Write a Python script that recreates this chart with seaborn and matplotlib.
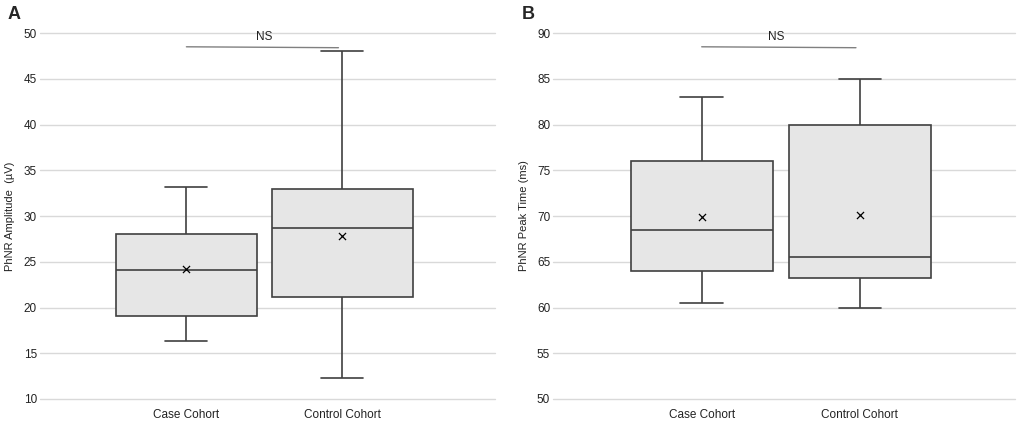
import numpy as np
import pandas as pd
import matplotlib.pyplot as plt
import seaborn as sns

groups = ["Case Cohort", "Control Cohort"]

# panel A: PhNR amplitude five-number summary + mean
amp_min = [16.3, 12.3]
amp_q1 = [19.1, 21.2]
amp_med = [24.1, 28.7]
amp_q3 = [28.0, 33.0]
amp_max = [33.2, 48.0]
amp_mean = [24.2, 27.8]

# panel B: PhNR peak time five-number summary + mean
pt_min = [60.5, 60.0]
pt_q1 = [64.0, 63.2]
pt_med = [68.5, 65.5]
pt_q3 = [76.0, 80.0]
pt_max = [83.0, 85.0]
pt_mean = [69.9, 70.1]

amp_sig_y = 48.5
pt_sig_y = 88.5
sig_text = "NS"


def summary_frame(mins, q1s, meds, q3s, maxs):
    rows = []
    for i, g in enumerate(groups):
        for v in (mins[i], q1s[i], meds[i], q3s[i], maxs[i]):
            rows.append({"group": g, "value": v})
    return pd.DataFrame(rows)


sns.set_style("white")
plt.rcParams["font.family"] = ["Liberation Sans", "DejaVu Sans"]

fig = plt.figure(figsize=(10.21, 4.24), dpi=100)
ax_a = fig.add_axes([0.039, 0.059, 0.446, 0.863])
ax_b = fig.add_axes([0.5416, 0.059, 0.4525, 0.863])

edge = "#404040"


def draw_panel(ax, df, means, ylim, ylabel, sig_y, text_x):
    ax.set_axisbelow(True)
    ax.yaxis.grid(True, color="#d9d9d9", linewidth=1.0)
    sns.boxplot(data=df, x="group", y="value", ax=ax, whis=(0, 100),
                width=0.9, color="#e6e6e6", linecolor=edge, linewidth=1.2,
                showfliers=False, capwidths=0.27, saturation=1)
    ax.scatter(range(len(groups)), means, marker="x", color="black",
               s=26, linewidths=0.9, zorder=5)
    ax.set_ylim(*ylim)
    ax.set_yticks(np.arange(ylim[0], ylim[1] + 1, 5))
    ax.set_xlim(-0.94, 1.98)
    for s in ax.spines.values():
        s.set_visible(False)
    for gl in ax.get_ygridlines():
        gl.set_clip_on(False)
    ax.tick_params(length=0, labelsize=8.5, colors="#222222")
    ax.tick_params(axis="x", pad=7)
    ax.tick_params(axis="y", pad=2)
    ax.set_xlabel("")
    ax.set_ylabel(ylabel, fontsize=8, color="#222222", labelpad=6)
    ax.plot([0, 0.975], [sig_y, sig_y - 0.1], color="#808080", lw=1.0,
            clip_on=False)
    ax.text(text_x, sig_y + 1.1, sig_text, ha="center", va="center",
            fontsize=8.5, color="#222222")


draw_panel(ax_a, summary_frame(amp_min, amp_q1, amp_med, amp_q3, amp_max),
           amp_mean, (10, 50), "PhNR Amplitude  (\u00b5V)", amp_sig_y, 0.5)
draw_panel(ax_b, summary_frame(pt_min, pt_q1, pt_med, pt_q3, pt_max),
           pt_mean, (50, 90), "PhNR Peak Time (ms)", pt_sig_y, 0.47)

fig.text(0.007, 0.965, "A", fontsize=13, fontweight="bold", va="center")
fig.text(0.511, 0.965, "B", fontsize=13, fontweight="bold", va="center")

fig.savefig("out.png", dpi=100)
